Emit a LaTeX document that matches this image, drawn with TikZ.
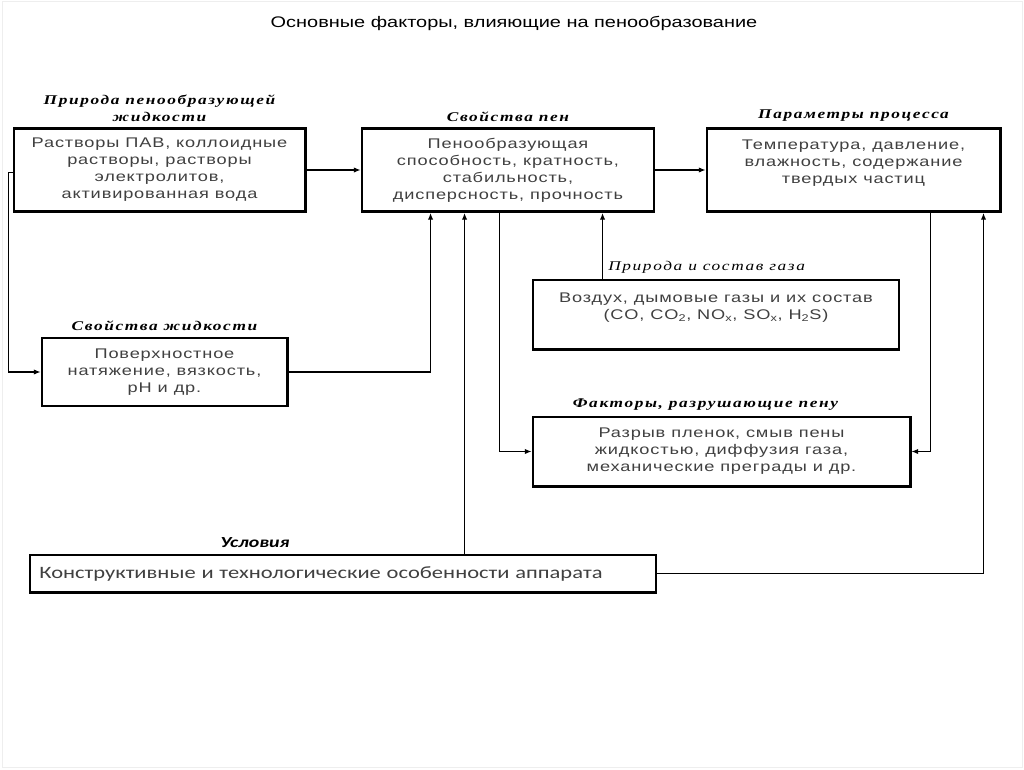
\documentclass[tikz,border=0pt]{standalone}
\usepackage{fontspec}
\setmainfont{Liberation Sans}
\newfontfamily\boxfont[FakeStretch=1.3,LetterSpace=6]{Liberation Sans}
\newfontfamily\titlefont[FakeStretch=1.3]{Liberation Sans}
\newfontfamily\notefont[FakeStretch=1.3,LetterSpace=12]{Liberation Serif}
\newfontfamily\condfont[FakeStretch=1.3]{Carlito}
\usetikzlibrary{arrows.meta,positioning,calc}
\definecolor{BoxText}{RGB}{64,64,64}
\definecolor{FrameGray}{RGB}{238,238,238}
\tikzset{
  fbox/.style     ={rectangle, draw=black, line width=2.2pt, fill=white, text=BoxText,
                    align=center, font=\boxfont\fontsize{10.5}{12.75}\selectfont, inner sep=3pt},
  fboxleft/.style ={rectangle, draw=black, line width=2.2pt, fill=white, text=BoxText,
                    align=left, font=\condfont\fontsize{13}{14}\selectfont, inner sep=7pt},
  note/.style     ={font=\notefont\bfseries\itshape\fontsize{10}{12.75}\selectfont,
                    align=center, inner sep=1pt},
  notelight/.style={font=\notefont\itshape\fontsize{10}{12.75}\selectfont,
                    align=center, inner sep=1pt},
  notesans/.style ={font=\condfont\bfseries\itshape\fontsize{11.5}{12.75}\selectfont,
                    align=center, inner sep=1pt},
  arr/.style      ={-{Latex[length=5pt,width=4pt]}, draw=black, line width=.8pt},
}
\begin{document}
\begin{tikzpicture}[x=0.75pt,y=-0.75pt,node distance=3pt]
  \useasboundingbox (0,0) rectangle (1024,769);
  \draw[FrameGray] (2,1) rectangle (1022,767);
  \node[font=\titlefont\fontsize{11.5}{14}\selectfont,text=black] (title) at (514,23)
       {Основные факторы, влияющие на пенообразование};
  % boxes
  \node[fbox,minimum width=218.3pt,minimum height=62.3pt] (liq) at (159.5,170)
       {Растворы ПАВ, коллоидные\\растворы, растворы\\электролитов,\\активированная вода};
  \node[fbox,minimum width=219pt,minimum height=62.3pt] (foam) at (508,170)
       {Пенообразующая\\способность, кратность,\\стабильность,\\дисперсность, прочность};
  \node[fbox,minimum width=219.8pt,minimum height=62.3pt] (proc) at (853.5,170)
       {Температура, давление,\\влажность, содержание\\твердых частиц\\\mbox{}};
  \node[fbox,minimum width=183.8pt,minimum height=51pt] (prop) at (164.5,372)
       {Поверхностное\\натяжение, вязкость,\\рН и др.};
  \node[fbox,minimum width=274.5pt,minimum height=51.8pt] (gas) at (716,314.5)
       {Воздух, дымовые газы и их состав\\(CO, CO\textsubscript{2}, NO\textsubscript{x}, SO\textsubscript{x}, H\textsubscript{2}S)\\\mbox{}};
  \node[fbox,minimum width=282.8pt,minimum height=51.8pt] (destr) at (721.5,451.5)
       {Разрыв пленок, смыв пены\\жидкостью, диффузия газа,\\механические преграды и др.};
  \node[fboxleft,text width=455.5pt,minimum height=27.8pt] (cond) at (343,573.5)
       {Конструктивные и технологические особенности аппарата};
  % captions
  \node[note,above=of liq] (liqcap) {Природа пенообразующей\\жидкости};
  \node[note,above=of foam] (foamcap) {Свойства пен};
  \node[note,above=of proc] (proccap) {Параметры процесса};
  \node[note,above=of prop] (propcap) {Свойства жидкости};
  \node[notelight,above=of gas,xshift=-7pt] (gascap) {Природа и состав газа};
  \node[note,above=of destr,xshift=-12pt] (destrcap) {Факторы, разрушающие пену};
  \node[notesans,above=of cond,xshift=-66pt] (condcap) {Условия};
  % connection points on the lower edges
  \coordinate (f1) at ($(foam.south west)+(70,0)$);
  \coordinate (f2) at ($(foam.south west)+(104,0)$);
  \coordinate (f3) at ($(foam.south west)+(139,0)$);
  \coordinate (f4) at ($(foam.south west)+(242,0)$);
  \coordinate (p1) at ($(proc.south west)+(225,0)$);
  \coordinate (p2) at ($(proc.south west)+(278,0)$);
  % connectors
  \draw[arr] (liq) -- (foam);
  \draw[arr] (foam) -- (proc);
  \draw[arr] ([yshift=-2pt]liq.west) -- ++(-4,0) |- (prop.west);
  \draw[arr] (prop.east) -| (f1);
  \draw[arr] (cond.north -| f2) -- (f2);
  \draw[arr] (f3) |- (destr.west);
  \draw[arr] (gas.north -| f4) -- (f4);
  \draw[arr] (p1) |- (destr.east);
  \draw[arr] (cond.east) -| (p2);
\end{tikzpicture}
\end{document}
